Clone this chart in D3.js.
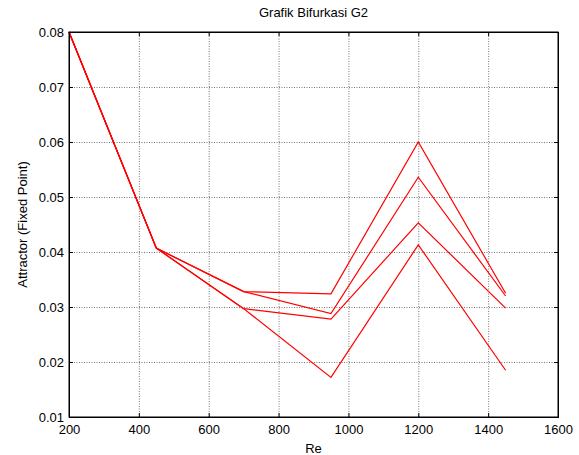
<!DOCTYPE html>
<html>
<head>
<meta charset="utf-8">
<script src="https://cdn.jsdelivr.net/npm/d3@7"></script>
<style>
  body { margin: 0; background: #fff; }
  svg { font-family: "Liberation Sans", Arial, sans-serif; }
  .grid line { stroke: #555; stroke-dasharray: 1,1.5; stroke-width: 0.8; }
  .grid path { display: none; }
</style>
</head>
<body>
<svg id="chart" width="579" height="455"></svg>
<script>
// data
var reValues = [200, 450, 700, 950, 1200, 1450];
var branch1 = [0.0800, 0.0407, 0.0328, 0.0324, 0.0600, 0.0325];
var branch2 = [0.0800, 0.0407, 0.0328, 0.0288, 0.0536, 0.0320];
var branch3 = [0.0800, 0.0407, 0.0297, 0.0278, 0.0453, 0.0298];
var branch4 = [0.0800, 0.0407, 0.0297, 0.0172, 0.0413, 0.0185];
var xTicks = [200, 400, 600, 800, 1000, 1200, 1400, 1600];
var yTicks = [0.01, 0.02, 0.03, 0.04, 0.05, 0.06, 0.07, 0.08];

var BifChart = (function () {
  return {
    Plot: function (DOMTarget) {
      var MARGINS = { top: 32, right: 21, bottom: 38, left: 69 },
          sWidth = 579, sHeight = 455,
          chart = d3.select(DOMTarget);

      var xScale = d3.scaleLinear().domain([200, 1600])
        .range([MARGINS.left, sWidth - MARGINS.right]);
      var yScale = d3.scaleLinear().domain([0.01, 0.08])
        .range([sHeight - MARGINS.bottom, MARGINS.top]);

      var x0 = MARGINS.left, x1 = sWidth - MARGINS.right,
          y0 = sHeight - MARGINS.bottom, y1 = MARGINS.top;

      // grid
      chart.append('g').attr('class', 'grid')
        .attr('transform', 'translate(0,' + y0 + ')')
        .call(d3.axisBottom(xScale).tickValues(xTicks).tickSize(-(y0 - y1)).tickFormat(''));
      chart.append('g').attr('class', 'grid')
        .attr('transform', 'translate(' + x0 + ',0)')
        .call(d3.axisLeft(yScale).tickValues(yTicks).tickSize(-(x1 - x0)).tickFormat(''));

      // lines
      var line = d3.line()
        .x(function (d, i) { return xScale(reValues[i]); })
        .y(function (d) { return yScale(d); });
      [branch1, branch2, branch3, branch4].forEach(function (s) {
        chart.append('path').attr('d', line(s))
          .attr('fill', 'none').attr('stroke', '#ff0000').attr('stroke-width', 1.2);
      });

      // box
      chart.append('rect').attr('x', x0).attr('y', y1)
        .attr('width', x1 - x0).attr('height', y0 - y1)
        .attr('fill', 'none').attr('stroke', '#000').attr('stroke-width', 1);

      // inward ticks
      var xAxis = d3.axisBottom(xScale).tickValues(xTicks).tickSize(-4).tickPadding(8).tickFormat(d3.format('d'));
      var yAxis = d3.axisLeft(yScale).tickValues(yTicks).tickSize(-4).tickPadding(5).tickFormat(d3.format('.2f'));
      var gx = chart.append('g').attr('transform', 'translate(0,' + y0 + ')').call(xAxis);
      var gy = chart.append('g').attr('transform', 'translate(' + x0 + ',0)').call(yAxis);
      chart.append('g').attr('transform', 'translate(0,' + y1 + ')')
        .call(d3.axisTop(xScale).tickValues(xTicks).tickSize(-4).tickFormat(''));
      chart.append('g').attr('transform', 'translate(' + x1 + ',0)')
        .call(d3.axisRight(yScale).tickValues(yTicks).tickSize(-4).tickFormat(''));
      chart.selectAll('.domain').filter(function () { return !this.parentNode.classList.contains('grid'); })
        .attr('stroke', '#000');
      [gx, gy].forEach(function (g) {
        g.selectAll('text').attr('font-size', 13).attr('fill', '#000')
          .attr('font-family', '"Liberation Sans", Arial, sans-serif');
      });

      // labels
      chart.append('text').attr('x', (x0 + x1) / 2).attr('y', 17)
        .attr('text-anchor', 'middle').attr('font-size', 13).text('Grafik Bifurkasi G2');
      chart.append('text').attr('x', (x0 + x1) / 2).attr('y', 453)
        .attr('text-anchor', 'middle').attr('font-size', 13).text('Re');
      chart.append('text')
        .attr('transform', 'translate(27,' + ((y0 + y1) / 2) + ') rotate(-90)')
        .attr('text-anchor', 'middle').attr('font-size', 13).text('Attractor (Fixed Point)');
    }
  };
})();

BifChart.Plot('#chart');
</script>
</body>
</html>
